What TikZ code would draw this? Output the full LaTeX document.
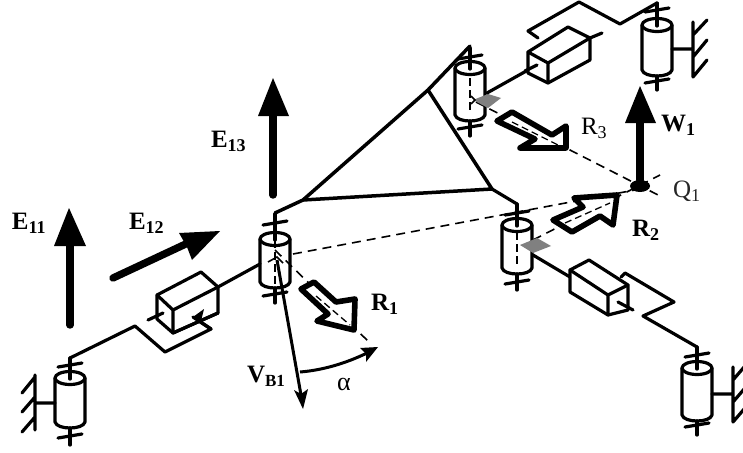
\documentclass[tikz,border=0pt]{standalone}
\usepackage{fontspec}
\setmainfont{Liberation Serif}
\tikzset{
  thick link/.style={line width=3.2pt,line join=round,line cap=round,draw=black},
  frame line/.style={line width=3.5pt,line join=round,line cap=round,draw=black},
  axis dash/.style={line width=1.6pt,dash pattern=on 9pt off 6pt,draw=black},
  hollow/.style={line width=5.6pt,line join=round,draw=black,fill=white},
  force/.style={line width=7.4pt,line cap=round,draw=black},
  lbl/.style={anchor=base west,inner sep=0pt,outer sep=0pt,text=black},
  diamondmark/.style={fill=black!50,draw=none}
}
\newcommand{\lblbold}[2]{{\fontsize{25}{25}\selectfont\bfseries #1}\raisebox{-4pt}{\fontsize{18}{18}\selectfont\bfseries #2}}
\newcommand{\lblreg}[2]{{\fontsize{25}{25}\selectfont #1}\raisebox{-4pt}{\fontsize{18}{18}\selectfont #2}}
% cx, top ellipse y, body bottom y, stem top, top bar y, bottom bar y, stem end
\newcommand{\mycyl}[7]{%
  \draw[thick link] (#1-15,#2) -- (#1-15,#3) .. controls (#1-13,#3+8) and (#1+13,#3+8) .. (#1+15,#3) -- (#1+15,#2);
  \draw[thick link] (#1,#2) ellipse [x radius=15,y radius=6.5];
  \draw[thick link] (#1,#4) -- (#1,#2+1);
  \draw[thick link] (#1-12,#5+2) -- (#1+12,#5-2);
  \draw[thick link] (#1,#3+6) -- (#1,#7);
  \draw[thick link] (#1-12,#6+2) -- (#1+12,#6-2);
}
\begin{document}
\begin{tikzpicture}[x=1pt,y=-1pt]
\useasboundingbox[fill=white] (0,0) rectangle (743,452);

% platform
\draw[frame line] (275,213) -- (303,200) -- (428,90) -- (470,46);
\draw[frame line] (303,200) -- (492,189) -- (428,90);
\draw[thick link] (492,189) -- (517,204);

% dashed lines
\draw[axis dash] (293,254) -- (635,190);
\draw[axis dash] (275,250) -- (370,343);
\draw[axis dash] (476,102) -- (662,197);
\draw[axis dash] (533,240) -- (660,175);

% cylinders
\mycyl{70}{378}{422}{358}{365}{436}{445}
\mycyl{275}{239}{282}{214}{223}{294}{303}
\mycyl{517}{225}{268}{204}{213}{282}{290}
\mycyl{470}{68}{115}{48}{57}{127}{136}
\mycyl{697}{368}{415}{347}{355}{425}{435}
\mycyl{657}{25}{70}{3}{10}{81}{90}
\draw[axis dash,dash pattern=on 8pt off 4pt] (275,240) -- (275,285);
\draw[axis dash,dash pattern=on 8pt off 4pt] (517,232) -- (517,265);
\draw[axis dash,dash pattern=on 8pt off 4pt] (470,78) -- (470,112);

% walls
\draw[thick link] (35,375) -- (35,430) (35,403) -- (55,403)
  (22,393) -- (35,377) (22,412) -- (35,397) (22,432) -- (35,417);
\draw[thick link] (693,22) -- (693,77) (672,49) -- (693,49)
  (693,35) -- (707,20) (693,57) -- (707,40) (693,77) -- (707,60);
\draw[thick link] (733,367) -- (733,422) (712,394) -- (733,394)
  (733,380) -- (745,366) (733,402) -- (745,388) (733,422) -- (745,408);

% gray marks
\fill[diamondmark] (520,245) -- (537,238) -- (551,246) -- (533,253) -- cycle;
\fill[diamondmark] (473,100) -- (488,94) -- (501,98) -- (488,108) -- cycle;
\draw[line width=1.5pt] (471,96) -- (475,100) -- (471,104);

% left prismatic joint
\draw[thick link] (70,358) -- (135,326) -- (165,352) -- (211,329) -- (193,317);
\draw[thick link,fill=white] (157,295) -- (201,272) -- (218,287) -- (218,313) -- (173,333) -- (157,319) -- cycle;
\draw[thick link] (157,295) -- (173,310) -- (218,287) (173,310) -- (173,333);
\draw[thick link] (148,320) -- (163,313);
\draw[thick link] (218,287) -- (260,264);
\draw[thick link] (173,333) -- (218,313);
\fill (193,317) -- (204,309) -- (201,321) -- cycle;
\draw[thick link] (193,317) -- (211,329);

% right prismatic joint
\draw[thick link] (533,255) -- (570,277);
\draw[thick link,fill=white] (570,270) -- (589,260) -- (628,285) -- (628,310) -- (608,315) -- (570,292) -- cycle;
\draw[thick link] (570,270) -- (608,295) -- (628,285) (608,295) -- (608,315);
\draw[thick link] (618,302) -- (633,310);
\draw[thick link] (621,277) -- (625,273) -- (674,302) -- (643,316) -- (697,347);

% upper prismatic joint
\draw[thick link] (487,93) -- (537,65);
\draw[thick link] (538,38) -- (528,31) -- (579,2) -- (620,24) -- (657,3);
\draw[thick link,fill=white] (528,52) -- (568,27) -- (590,38) -- (590,60) -- (548,83) -- (528,73) -- cycle;
\draw[thick link] (528,52) -- (548,63) -- (590,38) (548,63) -- (548,83);
\draw[thick link] (525,71) -- (537,65);
\draw[thick link] (590,38) -- (602,33);

% hollow arrows
\draw[hollow] (301,289) -- (314,282) -- (336,302) -- (355,299) -- (354,330) -- (317,321) -- (328,314) -- cycle;
\draw[axis dash,dash pattern=on 7pt off 4pt,line width=1.3pt] (316,296) -- (350,325);
\draw[hollow] (497,121) -- (512,112) -- (552,135) -- (566,126) -- (566,148) -- (520,148) -- (535,139) -- cycle;
\draw[axis dash,dash pattern=on 7pt off 4pt,line width=1.3pt] (512,122) -- (560,146);
\draw[hollow] (553,220) -- (583,207) -- (574,198) -- (617,195) -- (613,225) -- (600,216) -- (572,232) -- cycle;
\draw[axis dash,dash pattern=on 7pt off 4pt,line width=1.3pt] (565,223) -- (610,203);

% force arrows
\draw[force] (70,325) -- (70,240);
\fill (69,208) -- (86,246) -- (54,246) -- cycle;
\draw[force] (113,278) -- (190,242);
\fill (220,231) -- (192,260) -- (187,247) -- (179,233) -- cycle;
\draw[force] (273,195) -- (273,110);
\fill (273,78) -- (289,116) -- (258,116) -- cycle;
\draw[force] (640,180) -- (640,118);
\fill (640,86) -- (656,123) -- (625,123) -- cycle;
\fill (640,186) ellipse [x radius=10,y radius=6];

% V_B1 and alpha
\draw[line width=3pt] (277,260) -- (301,395);
\fill (303,409) -- (294,390) -- (301,394) -- (308,389) -- cycle;
\draw[line width=1.6pt] (268,262) -- (277,257) -- (283,263);
\draw[line width=3pt] (300,372) .. controls (325,370) and (350,362) .. (373,350);
\fill (378,347) -- (360,348) -- (366,354) -- (366,362) -- cycle;

% labels
\node[lbl] (e11) at (12,229) {\lblbold{E}{11}};
\node[lbl] (e12) at (129,229) {\lblbold{E}{12}};
\node[lbl] (e13) at (211,147) {\lblbold{E}{13}};
\node[lbl] (vb1) at (247,382) {{\fontsize{25}{25}\selectfont\bfseries V}\raisebox{-4pt}{\fontsize{17}{17}\selectfont\bfseries B1}};
\node[lbl] (r1) at (371,310) {\lblbold{R}{1}};
\node[lbl] (r2) at (632,236) {\lblbold{R}{2}};
\node[lbl] (r3) at (581,134) {\lblreg{R}{3}};
\node[lbl] (w1) at (661,131) {\lblbold{W}{1}};
\node[lbl,text=black!85] (q1) at (673,197) {\lblreg{Q}{1}};
\node[lbl] (alpha) at (337,390) {\fontsize{26}{26}\selectfont α};
\end{tikzpicture}
\end{document}
